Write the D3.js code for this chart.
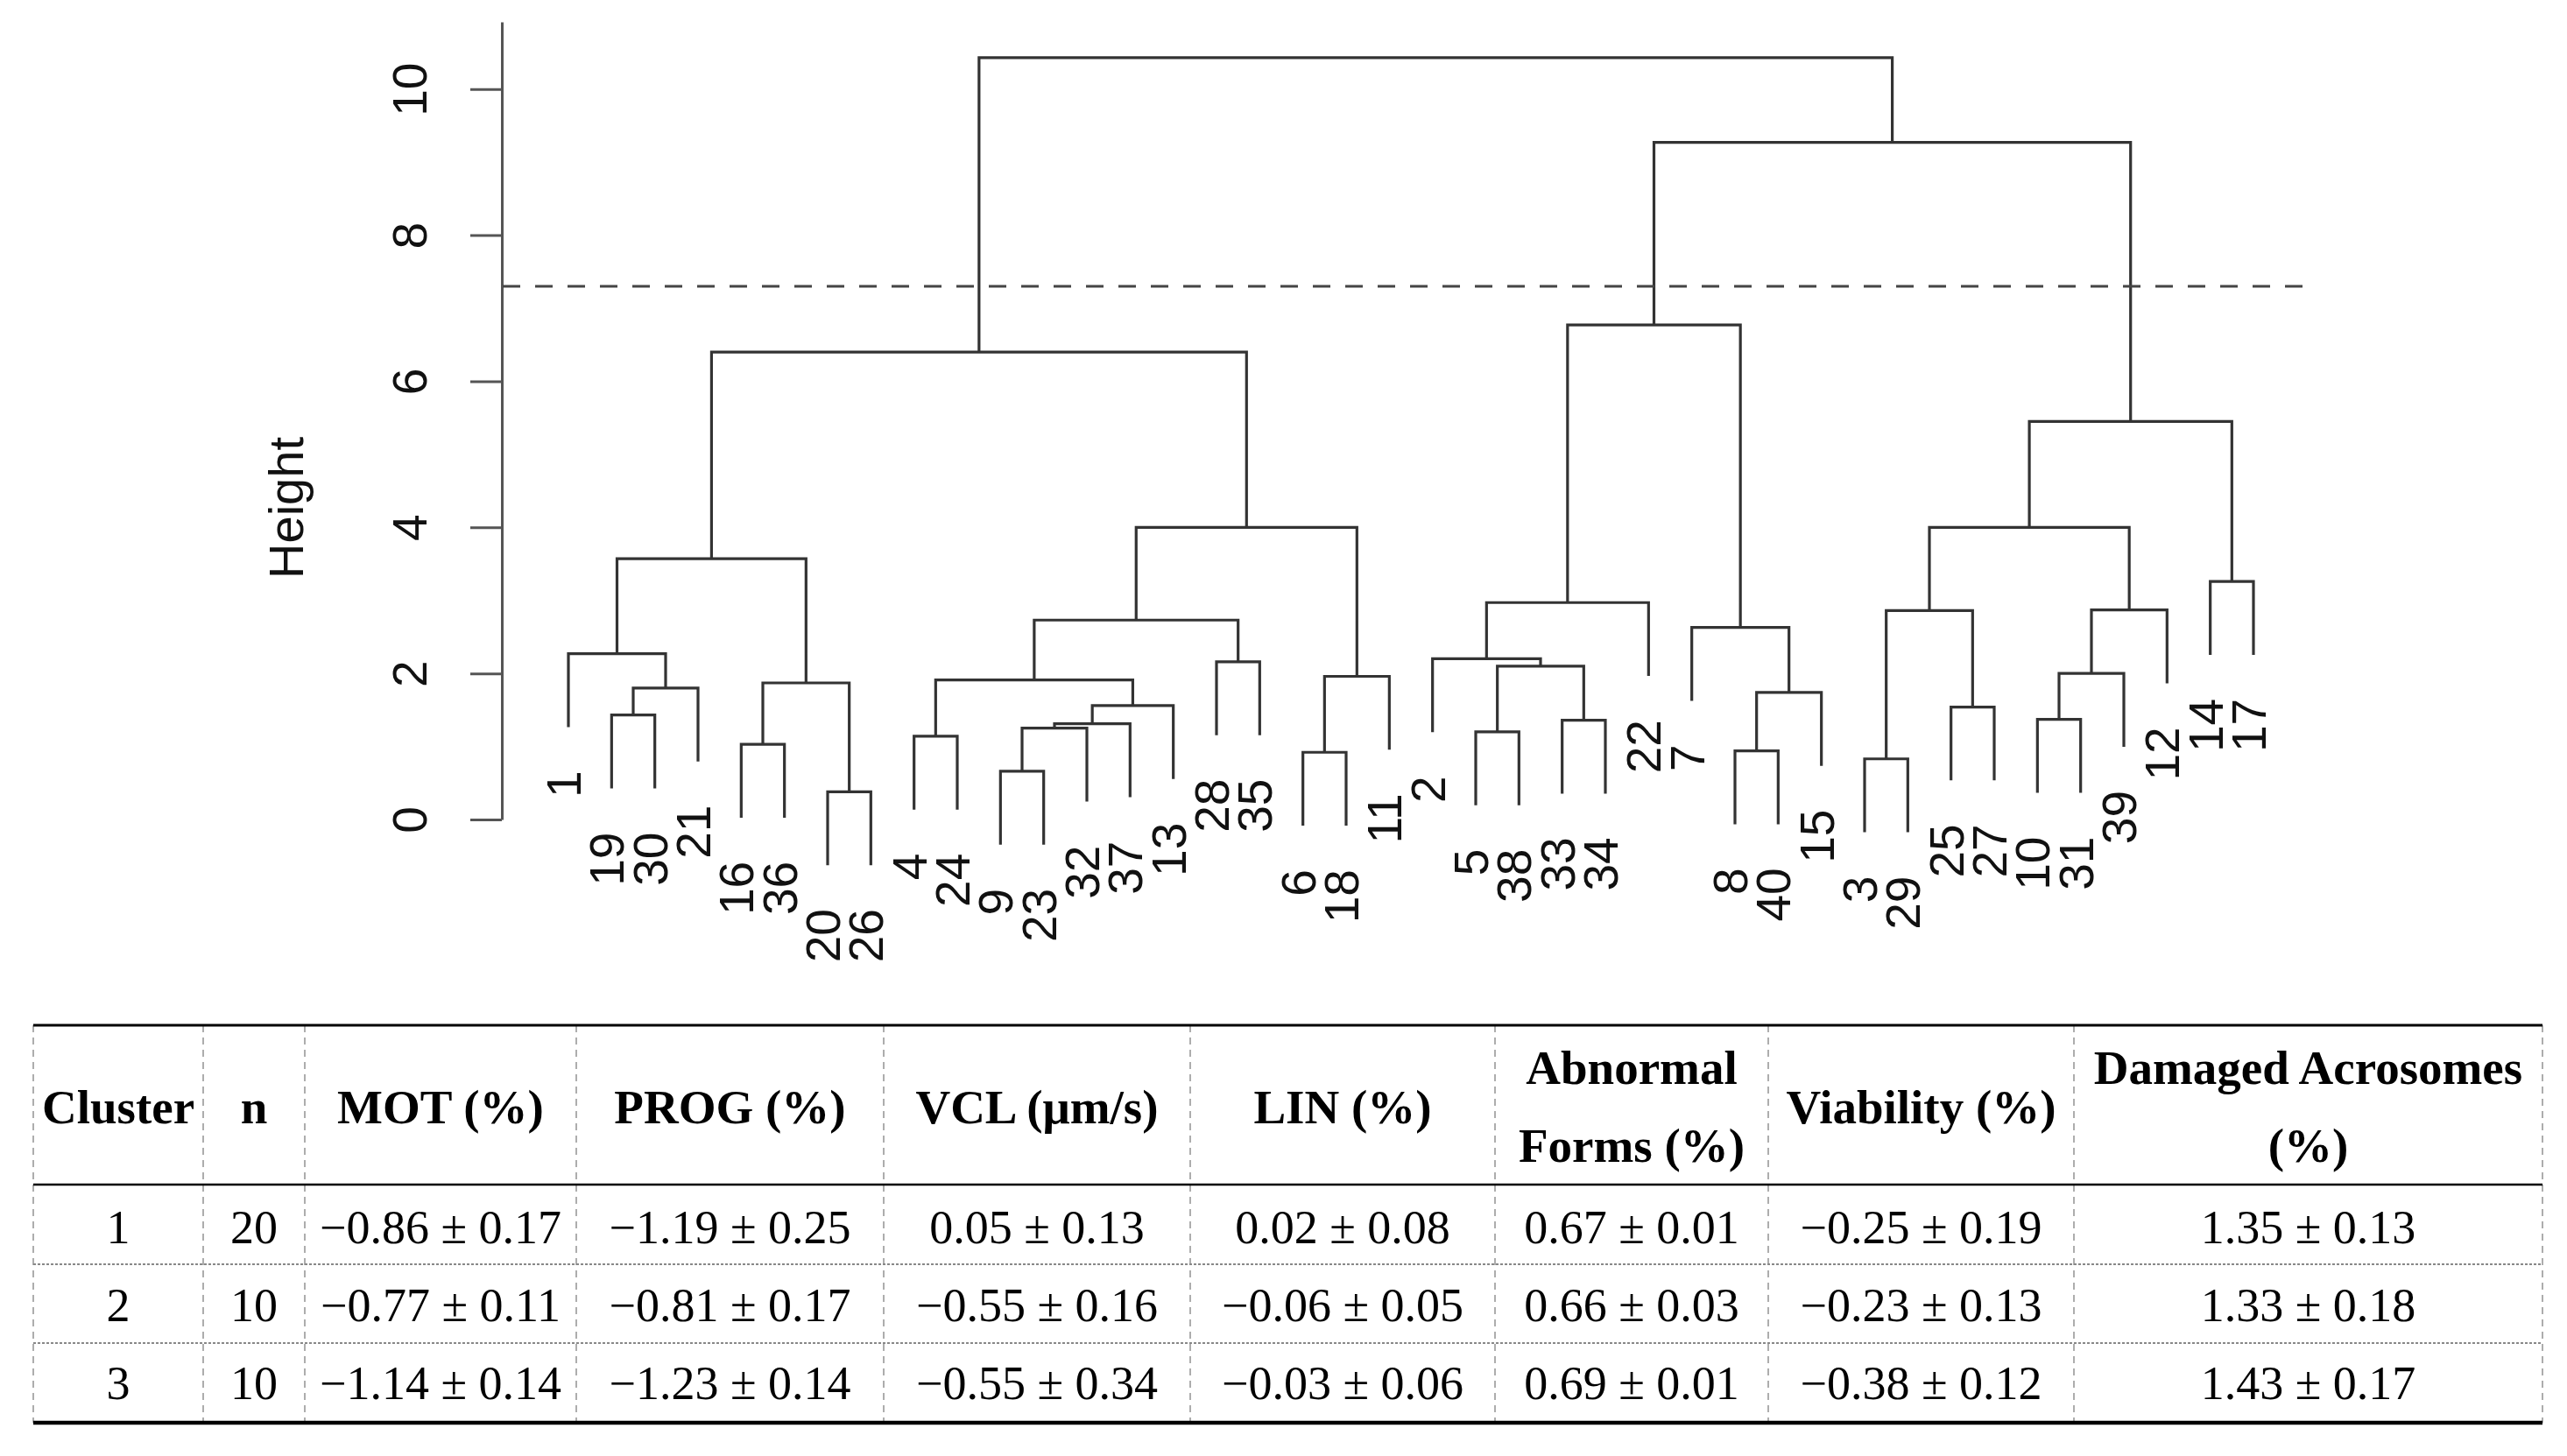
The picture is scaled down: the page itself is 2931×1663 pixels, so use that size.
<!DOCTYPE html>
<html>
<head>
<meta charset="utf-8">
<script src="https://cdn.jsdelivr.net/npm/d3@7"></script>
<style>
  body { margin: 0; background: #fff; }
  svg { display: block; }
</style>
</head>
<body>
<svg id="chart" width="2931" height="1663"></svg>
<script>
// leaf order along the x axis (as plotted)
const leafOrder = [1, 19, 30, 21, 16, 36, 20, 26, 4, 24, 9, 23, 32, 37, 13, 28, 35, 6, 18, 11,
                   2, 5, 38, 33, 34, 22, 7, 8, 40, 15, 3, 29, 25, 27, 10, 31, 39, 12, 14, 17];

// hclust-style merge table: negative = observation, positive = earlier merge (1-based)
const mergeLeft  = [-20, -9, -3, -6, -8, -16, -4, -5, 2, 9, -33, -10, -19, -25, 10, 5, 13, 6, 7, 4,
                    12, 8, -28, -2, -1, -7, 19, 3, 21, 24, -14, 25, 27, 28, 34, 32, 30, 37, 36];
const mergeRight = [-26, -23, -29, -18, -40, -36, -24, -38, -32, -37, -34, -31, -30, -27, -13, -15, -21, 1, 15, -11,
                    -39, 11, -35, 22, 17, 16, 23, 14, -12, -22, -17, 18, 20, 29, 31, 33, 26, 35, 38];
const mergeHeight = [0.38, 0.66, 0.83, 0.92, 0.94, 1.03, 1.14, 1.20, 1.25, 1.31, 1.36, 1.37, 1.43, 1.54, 1.56,
                     1.74, 1.80, 1.87, 1.91, 1.96, 2.00, 2.10, 2.16, 2.20, 2.27, 2.63, 2.73, 2.86, 2.87, 2.97,
                     3.26, 3.57, 4.00, 4.00, 5.45, 6.40, 6.77, 9.27, 10.43];
const cutHeight = 7.30;
const yTicks = [0, 2, 4, 6, 8, 10];

// table
const tableHeaders = [["Cluster"], ["n"], ["MOT (%)"], ["PROG (%)"], ["VCL (\u03bcm/s)"], ["LIN (%)"],
                      ["Abnormal", "Forms (%)"], ["Viability (%)"], ["Damaged Acrosomes", "(%)"]];
const clusters = [1, 2, 3];
const clusterN = [20, 10, 10];
const motMean = [-0.86, -0.77, -1.14],  motSd = [0.17, 0.11, 0.14];
const progMean = [-1.19, -0.81, -1.23], progSd = [0.25, 0.17, 0.14];
const vclMean = [0.05, -0.55, -0.55],   vclSd = [0.13, 0.16, 0.34];
const linMean = [0.02, -0.06, -0.03],   linSd = [0.08, 0.05, 0.06];
const abnMean = [0.67, 0.66, 0.69],     abnSd = [0.01, 0.03, 0.01];
const viaMean = [-0.25, -0.23, -0.38],  viaSd = [0.19, 0.13, 0.12];
const acrMean = [1.35, 1.33, 1.43],     acrSd = [0.13, 0.18, 0.17];

const svg = d3.select("#chart");

// ---------- dendrogram ----------
const x = d3.scalePoint().domain(leafOrder).range([649, 2573]);
const y = d3.scaleLinear().domain([0, 10.92]).range([936, 25]);
const hang = 0.1 * (d3.max(mergeHeight) - d3.min(mergeHeight));

const nodeX = [], nodeY = [];
function childPos(ref, parentH) {
    if (ref < 0) return {x: x(-ref), y: y(parentH - hang)};
    return {x: nodeX[ref - 1], y: y(mergeHeight[ref - 1])};
}

const segs = mergeHeight.map((h, i) => {
    const a = childPos(mergeLeft[i], h);
    const b = childPos(mergeRight[i], h);
    nodeX[i] = (a.x + b.x) / 2;
    nodeY[i] = y(h);
    return {a, b, yh: y(h)};
});

const tree = svg.append("g").attr("class", "tree");
tree.selectAll("path")
    .data(segs)
    .enter().append("path")
        .attr("d", d => `M${d.a.x},${d.a.y}V${d.yh}H${d.b.x}V${d.b.y}`)
        .attr("fill", "none")
        .attr("stroke", "#333")
        .attr("stroke-width", 3.2);

// leaf labels
const leafEnds = [];
mergeHeight.forEach((h, i) => {
    [mergeLeft[i], mergeRight[i]].forEach(ref => {
        if (ref < 0) leafEnds.push({label: -ref, x: x(-ref), y: y(h - hang)});
    });
});
tree.selectAll(".leaf-label")
    .data(leafEnds)
    .enter().append("text")
        .attr("class", "leaf-label")
        .attr("transform", d => `translate(${d.x + 14},${d.y + 50}) rotate(-90)`)
        .attr("text-anchor", "end")
        .style("font-family", "'Liberation Sans', Arial, sans-serif")
        .style("font-size", "55px")
        .attr("fill", "#111")
        .text(d => d.label);

// y axis
const gY = svg.append("g")
    .attr("class", "y-axis")
    .attr("transform", "translate(573,0)")
    .call(d3.axisLeft(y).tickValues(yTicks).tickSize(36).tickSizeOuter(0).tickFormat(d3.format("d")));
gY.select(".domain").attr("stroke", "#555").attr("stroke-width", 3);
gY.selectAll(".tick line").attr("stroke", "#555").attr("stroke-width", 3);
gY.selectAll(".tick text")
    .attr("transform", "rotate(-90)")
    .attr("x", 0)
    .attr("y", -86)
    .attr("dy", null)
    .style("text-anchor", "middle")
    .style("font-family", "'Liberation Sans', Arial, sans-serif")
    .style("font-size", "55px")
    .attr("fill", "#111");

svg.append("text")
    .attr("transform", "translate(346,580) rotate(-90)")
    .attr("text-anchor", "middle")
    .style("font-family", "'Liberation Sans', Arial, sans-serif")
    .style("font-size", "56px")
    .attr("fill", "#111")
    .text("Height");

// cut line
svg.append("line")
    .attr("x1", 574).attr("x2", 2641)
    .attr("y1", y(cutHeight)).attr("y2", y(cutHeight))
    .attr("stroke", "#444")
    .attr("stroke-width", 3)
    .attr("stroke-dasharray", "20,17");

// ---------- table ----------
const colEdges = [38, 232, 348, 658, 1009, 1359, 1707, 2019, 2368, 2903];
const tableTop = 1171, headerBottom = 1353, tableBottom = 1625;
const rowLines = [1444, 1534];
const rowBaselines = [1420, 1509, 1598];
const fmt = d3.format(".2f");
const pm = (m, s) => `${fmt(m)} \u00b1 ${fmt(s)}`;

const rows = clusters.map((c, i) => [
    String(c), String(clusterN[i]),
    pm(motMean[i], motSd[i]), pm(progMean[i], progSd[i]), pm(vclMean[i], vclSd[i]),
    pm(linMean[i], linSd[i]), pm(abnMean[i], abnSd[i]), pm(viaMean[i], viaSd[i]), pm(acrMean[i], acrSd[i])
]);

const table = svg.append("g").attr("class", "table");
const colCenter = i => (colEdges[i] + colEdges[i + 1]) / 2;

table.selectAll(".vline")
    .data(colEdges)
    .enter().append("line")
        .attr("class", "vline")
        .attr("x1", d => d).attr("x2", d => d)
        .attr("y1", tableTop).attr("y2", tableBottom)
        .attr("stroke", "#999")
        .attr("stroke-width", 1.6)
        .attr("stroke-dasharray", "8,6");

table.selectAll(".rline")
    .data(rowLines)
    .enter().append("line")
        .attr("class", "rline")
        .attr("x1", colEdges[0]).attr("x2", colEdges[colEdges.length - 1])
        .attr("y1", d => d).attr("y2", d => d)
        .attr("stroke", "#888")
        .attr("stroke-width", 2)
        .attr("stroke-dasharray", "3,2");

[[tableTop, 3], [headerBottom, 2.6], [tableBottom, 4.5]].forEach(([yy, w]) => {
    table.append("line")
        .attr("x1", colEdges[0]).attr("x2", colEdges[colEdges.length - 1])
        .attr("y1", yy).attr("y2", yy)
        .attr("stroke", "#000")
        .attr("stroke-width", w);
});

tableHeaders.forEach((lines, i) => {
    const baselines = lines.length === 1 ? [1283] : [1238, 1327];
    lines.forEach((t, j) => {
        table.append("text")
            .attr("x", colCenter(i))
            .attr("y", baselines[j])
            .attr("text-anchor", "middle")
            .style("font-family", "'Liberation Serif', 'Times New Roman', serif")
            .style("font-size", "55px")
            .style("font-weight", "bold")
            .attr("fill", "#000")
            .text(t);
    });
});

rows.forEach((row, r) => {
    row.forEach((t, i) => {
        table.append("text")
            .attr("x", colCenter(i))
            .attr("y", rowBaselines[r])
            .attr("text-anchor", "middle")
            .style("font-family", "'Liberation Serif', 'Times New Roman', serif")
            .style("font-size", "54px")
            .attr("fill", "#000")
            .text(t);
    });
});
</script>
</body>
</html>
